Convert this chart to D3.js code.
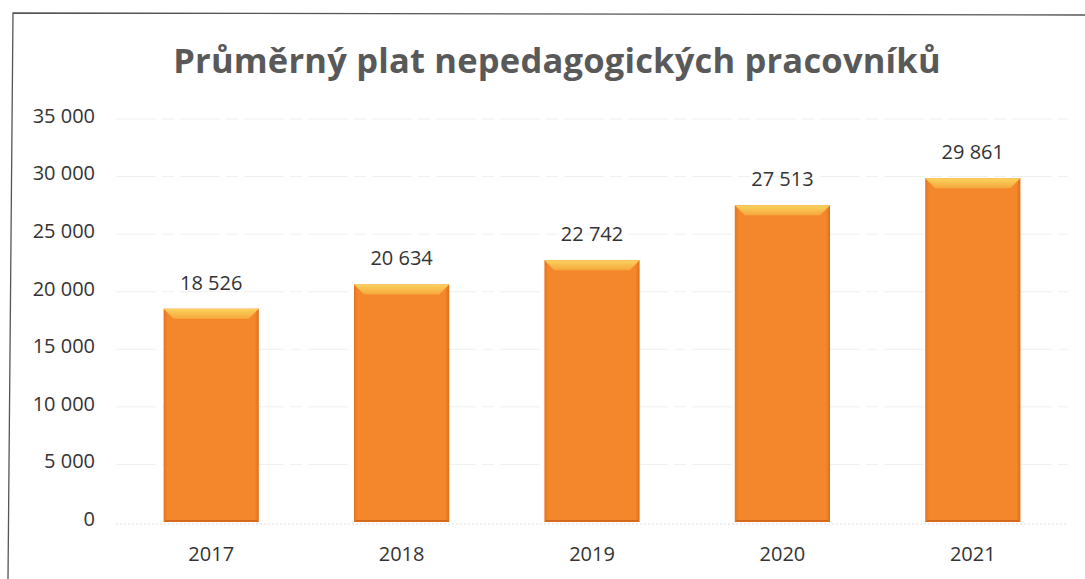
<!DOCTYPE html>
<html>
<head>
<meta charset="utf-8">
<script src="https://cdn.jsdelivr.net/npm/d3@7"></script>
<style>
  html, body { margin: 0; padding: 0; background: #fff; }
  svg { display: block; font-family: "Open Sans", "Noto Sans", sans-serif; }
</style>
</head>
<body>
<div id="chart"></div>
<script>
const WIDTH = 1085;
const HEIGHT = 579;

const title = "Průměrný plat nepedagogických pracovníků";
const years = ["2017", "2018", "2019", "2020", "2021"];
const salaries = [18526, 20634, 22742, 27513, 29861];
const yTicks = [0, 5000, 10000, 15000, 20000, 25000, 30000, 35000];

const margin = { top: 119, right: 17, bottom: 57, left: 116 };

const fmt = v => d3.format(",")(v).replace(/,/g, " ");

const svg = d3.select("#chart").append("svg")
  .attr("width", WIDTH)
  .attr("height", HEIGHT);

const defs = svg.append("defs");

// body gradient: a bit darker at the edges
const bodyGrad = defs.append("linearGradient").attr("id", "barBody")
  .attr("x1", 0).attr("x2", 1).attr("y1", 0).attr("y2", 0);
bodyGrad.append("stop").attr("offset", "0%").attr("stop-color", "#e7741f");
bodyGrad.append("stop").attr("offset", "4%").attr("stop-color", "#f4862c");
bodyGrad.append("stop").attr("offset", "96%").attr("stop-color", "#f4862c");
bodyGrad.append("stop").attr("offset", "100%").attr("stop-color", "#df6c1a");

const bevelGrad = defs.append("linearGradient").attr("id", "barBevel")
  .attr("x1", 0).attr("x2", 0).attr("y1", 0).attr("y2", 1);
bevelGrad.append("stop").attr("offset", "0%").attr("stop-color", "#fad35e");
bevelGrad.append("stop").attr("offset", "100%").attr("stop-color", "#f6a83c");

// frame (scanned page border)
svg.append("path")
  .attr("d", `M8,${HEIGHT} L13,13 L${WIDTH},15`)
  .attr("fill", "none")
  .attr("stroke", "#555")
  .attr("stroke-width", 1.3);

svg.append("text")
  .attr("x", 557)
  .attr("y", 73)
  .attr("text-anchor", "middle")
  .attr("font-size", 34.5)
  .attr("font-weight", "bold")
  .attr("letter-spacing", 0.2)
  .attr("fill", "#595959")
  .text(title);

const x = d3.scaleBand()
  .domain(years)
  .range([margin.left, WIDTH - margin.right])
  .paddingInner(0.5)
  .paddingOuter(0.25);

const y = d3.scaleLinear()
  .domain([0, 35000])
  .range([HEIGHT - margin.bottom, margin.top]);

// gridlines
svg.append("g")
  .selectAll("line")
  .data(yTicks.filter(d => d > 0))
  .join("line")
  .attr("x1", margin.left)
  .attr("x2", WIDTH - margin.right)
  .attr("y1", d => y(d))
  .attr("y2", d => y(d))
  .attr("stroke", "#efefef")
  .attr("stroke-width", 1)
  .attr("stroke-dasharray", "40 6 12 6");

// baseline
svg.append("line")
  .attr("x1", margin.left)
  .attr("x2", WIDTH - margin.right)
  .attr("y1", y(0) + 2)
  .attr("y2", y(0) + 2)
  .attr("stroke", "#dcdcdc")
  .attr("stroke-dasharray", "2 2");

// y axis labels
const yAxis = d3.axisLeft(y).tickValues(yTicks).tickFormat(fmt).tickSize(0).tickPadding(0);
svg.append("g")
  .attr("transform", `translate(95,-3)`)
  .call(yAxis)
  .call(g => g.select(".domain").remove())
  .selectAll("text")
  .attr("font-family", "'Open Sans', sans-serif")
  .attr("font-size", 20)
  .attr("fill", "#333");

// x axis labels
const xAxis = d3.axisBottom(x).tickSize(0).tickPadding(0);
svg.append("g")
  .attr("transform", `translate(0,${y(0) + 25})`)
  .call(xAxis)
  .call(g => g.select(".domain").remove())
  .selectAll("text")
  .attr("font-family", "'Open Sans', sans-serif")
  .attr("font-size", 20)
  .attr("fill", "#333");

// bars
const data = years.map((yr, i) => ({ year: yr, value: salaries[i] }));
const bars = svg.append("g").selectAll("g").data(data).join("g");
const bev = 10;

bars.append("rect")
  .attr("x", d => x(d.year))
  .attr("y", d => y(d.value))
  .attr("width", x.bandwidth())
  .attr("height", d => y(0) - y(d.value))
  .attr("fill", "url(#barBody)");

bars.append("path")
  .attr("d", d => {
    const x0 = x(d.year), x1 = x0 + x.bandwidth(), t = y(d.value);
    return `M${x0},${t} H${x1} L${x1 - bev},${t + bev} H${x0 + bev} Z`;
  })
  .attr("fill", "url(#barBevel)");

bars.append("path")
  .attr("d", d => {
    const x0 = x(d.year), x1 = x0 + x.bandwidth(), b = y(0);
    return `M${x0},${b} H${x1} L${x1 - 2},${b - 2} H${x0 + 2} Z`;
  })
  .attr("fill", "#d2691c");

// value labels
bars.append("text")
  .attr("x", d => x(d.year) + x.bandwidth() / 2)
  .attr("y", d => y(d.value) - 19)
  .attr("text-anchor", "middle")
  .attr("font-size", 20)
  .attr("fill", "#333")
  .text(d => fmt(d.value));
</script>
</body>
</html>
